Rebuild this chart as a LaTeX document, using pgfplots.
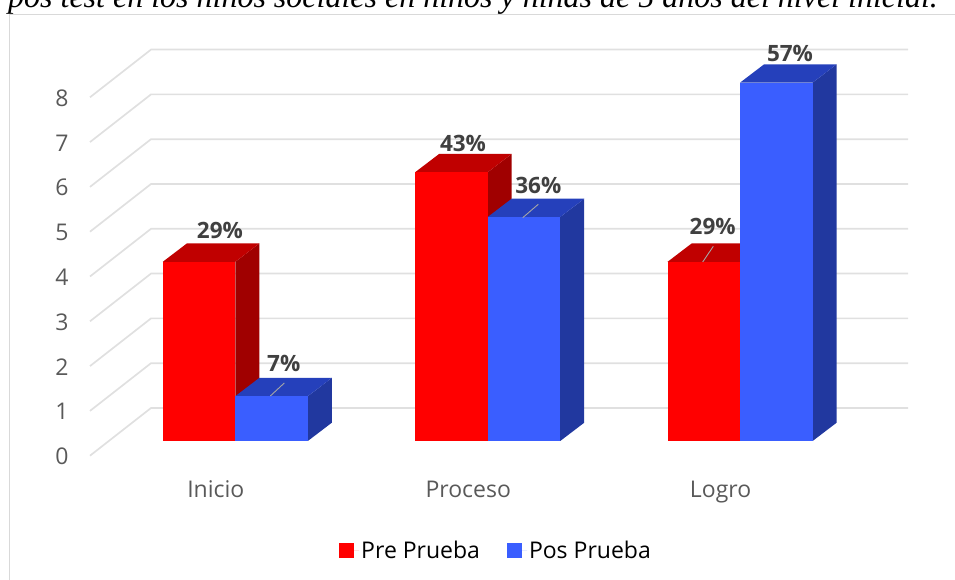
\documentclass[border=0pt]{standalone}
\usepackage{pgfplots}
\usepackage{fontspec}
\pgfplotsset{compat=1.18}
\setmainfont{Open Sans}
\newfontfamily\titlefont{Liberation Serif}
\definecolor{redF}{HTML}{FF0000}
\definecolor{redT}{HTML}{C00000}
\definecolor{redS}{HTML}{A00000}
\definecolor{bluF}{HTML}{3A5EFF}
\definecolor{bluT}{HTML}{2540BB}
\definecolor{bluS}{HTML}{21389F}
\definecolor{wall}{HTML}{E0E0E0}
\definecolor{frm}{HTML}{D9D9D9}
\definecolor{txt}{HTML}{595959}
\definecolor{lab}{HTML}{404040}
% left, right, back left, back right, value, value + depth, front, top, side
\newcommand{\cuboid}[9]{%
  \addplot[forget plot,draw=none,fill=#9] coordinates {(#2,0) (#4,0.4085) (#4,#6) (#2,#5)} --cycle;
  \addplot[forget plot,draw=none,fill=#8] coordinates {(#1,#5) (#2,#5) (#4,#6) (#3,#6)} --cycle;
  \addplot[forget plot,draw=none,fill=#7] coordinates {(#1,0) (#2,0) (#2,#5) (#1,#5)} --cycle;
}
\newcommand{\wall}[2]{\addplot[forget plot,wall,line width=1.7pt] coordinates {(-0.5757,#1) (-0.3340,#2) (2.6652,#2)};}
\begin{document}
\begin{tikzpicture}
\path[use as bounding box,clip] (0,0) rectangle (955pt,580pt);
\begin{axis}[
  at={(0,0)},anchor=south west,
  width=955pt,height=580pt,scale only axis,
  xmin=-0.9323,xmax=2.8514,ymin=-3.1027,ymax=9.8438,
  clip=false,
  axis line style={draw=none},
  major tick length=0pt,
  xtick={0,1,2},xticklabels={Inicio,Proceso,Logro},
  ytick={0,1,2,3,4,5,6,7,8},yticklabels={0,1,2,3,4,5,6,7,8},
  tick label style={font=\fontsize{23}{27}\selectfont,text=txt},
  x tick label style={anchor=base,xshift=-19.5pt,yshift=82.7pt},
  y tick label style={anchor=center,xshift=62pt,yshift=-15.5pt},
  legend style={at={(0.5194,0.0509)},anchor=center,draw=none,fill=none,
    font=\fontsize{23}{27}\selectfont,text=black,
    /tikz/every even column/.append style={column sep=25pt},
    inner sep=0pt},
  legend columns=2,
  legend image code/.code={\path[draw=none] (0pt,0pt) -- (20pt,0pt);\fill[#1,draw=none] (0pt,-7.5pt) rectangle (15pt,7.5pt);},
]
% frame
\addplot[forget plot,frm,line width=1.3pt] coordinates {(-0.8954,-3.1027) (-0.8954,9.52) (2.8514,9.52)};
% walls: value-offset front, value-offset back
\wall{-0.328}{0.7366}
\wall{0.672}{1.7366}
\wall{1.672}{2.7366}
\wall{2.672}{3.7366}
\wall{3.672}{4.7366}
\wall{4.672}{5.7366}
\wall{5.672}{6.7366}
\wall{6.672}{7.7366}
\wall{7.672}{8.7366}
% Inicio
\cuboid{-0.2873}{0}{-0.1922}{0.0951}{4}{4.4085}{redF}{redT}{redS}
\cuboid{0}{0.2873}{0.0951}{0.3824}{1}{1.4085}{bluF}{bluT}{bluS}
% Proceso
\cuboid{0.7127}{1}{0.8078}{1.0951}{6}{6.4085}{redF}{redT}{redS}
\cuboid{1}{1.2873}{1.0951}{1.3824}{5}{5.4085}{bluF}{bluT}{bluS}
% Logro
\cuboid{1.7127}{2}{1.8078}{2.0951}{4}{4.4085}{redF}{redT}{redS}
\cuboid{2}{2.2873}{2.0951}{2.3824}{8}{8.4085}{bluF}{bluT}{bluS}
% leader lines
\addplot[forget plot,color=black!35,line width=0.9pt] coordinates {(0.1387,1.0045) (0.1941,1.2946)};
\addplot[forget plot,color=black!35,line width=0.9pt] coordinates {(1.1387,4.985) (1.2004,5.284)};
\addplot[forget plot,color=black!35,line width=0.9pt] coordinates {(1.8518,3.996) (1.8938,4.346)};
% labels
\tikzset{dl/.style={anchor=center,font=\fontsize{22.5}{26}\selectfont\bfseries,text=lab,inner sep=0pt}}
\node[dl] at (axis cs:-0.0610,4.695) {29\%};
\node[dl] at (axis cs:0.9022,6.652) {43\%};
\node[dl] at (axis cs:0.1918,1.724) {7\%};
\node[dl] at (axis cs:1.2004,5.714) {36\%};
\node[dl] at (axis cs:1.8914,4.783) {29\%};
\node[dl] at (axis cs:2.1977,8.654) {57\%};
\node[anchor=base west,inner sep=0pt,font=\titlefont\itshape\fontsize{32}{36}\selectfont,text=black] at (axis cs:-0.9006,9.665) {pos test en los niños sociales en niños y niñas de 5 años del nivel inicial.};
\addlegendimage{fill=redF}
\addlegendentry{Pre Prueba}
\addlegendimage{fill=bluF}
\addlegendentry{Pos Prueba}
\end{axis}
\end{tikzpicture}
\end{document}
